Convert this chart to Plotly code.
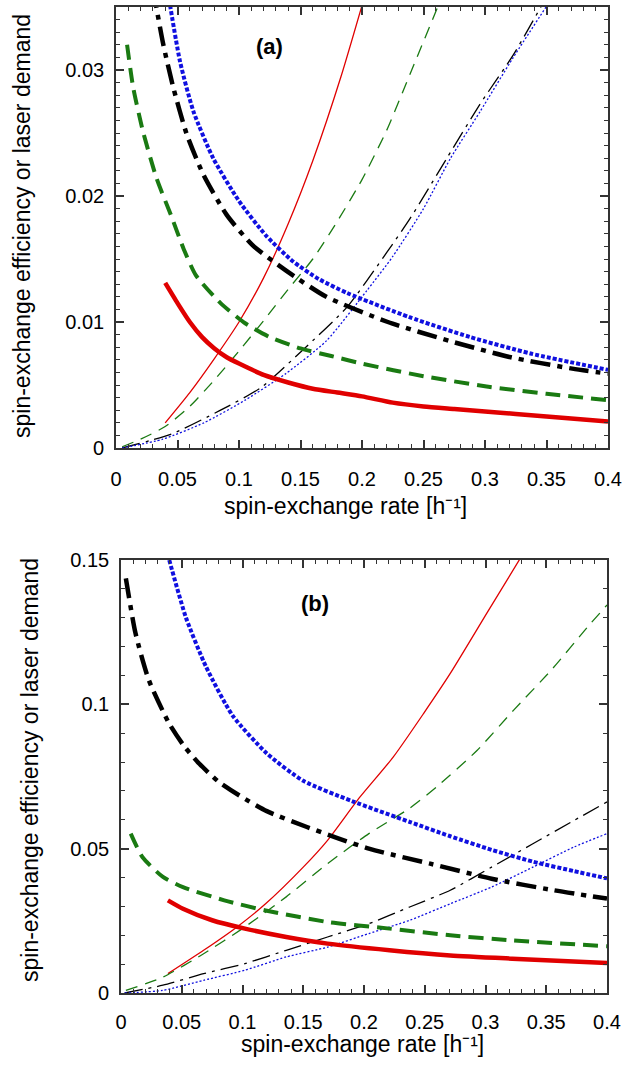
import plotly.graph_objects as go

# ---------------- Panel (a) data ----------------
A_red_eff_x = [0.04, 0.05, 0.06, 0.07, 0.08, 0.09, 0.10, 0.12, 0.14, 0.16, 0.18, 0.20, 0.225, 0.25, 0.275, 0.30, 0.325, 0.35, 0.375, 0.40]
A_red_eff_y = [0.0131, 0.0115, 0.0100, 0.0088, 0.0079, 0.0072, 0.0067, 0.0058, 0.0052, 0.0047, 0.0044, 0.0041, 0.0036, 0.0033, 0.0031, 0.0029, 0.0027, 0.0025, 0.0023, 0.0021]
A_red_las_x = [0.04, 0.06, 0.08, 0.10, 0.12, 0.14, 0.16, 0.183, 0.21]
A_red_las_y = [0.0020, 0.0044, 0.0071, 0.0100, 0.0135, 0.0178, 0.0228, 0.0295, 0.0385]

A_grn_eff_x = [0.009, 0.014, 0.022, 0.033, 0.045, 0.055, 0.065, 0.085, 0.105, 0.125, 0.15, 0.175, 0.20, 0.25, 0.30, 0.35, 0.40]
A_grn_eff_y = [0.0320, 0.0286, 0.0251, 0.0214, 0.0184, 0.0158, 0.0137, 0.0115, 0.0099, 0.0088, 0.0079, 0.0073, 0.0067, 0.0057, 0.0049, 0.0043, 0.0038]
A_grn_las_x = [0.005, 0.02, 0.04, 0.06, 0.08, 0.10, 0.12, 0.14, 0.16, 0.18, 0.20, 0.22, 0.24, 0.27]
A_grn_las_y = [0.0001, 0.0007, 0.0017, 0.0033, 0.0054, 0.0077, 0.0101, 0.0126, 0.0150, 0.0180, 0.0213, 0.0252, 0.0299, 0.0370]

A_blk_eff_x = [0.03, 0.0385, 0.0466, 0.0575, 0.071, 0.09, 0.111, 0.138, 0.171, 0.221, 0.271, 0.321, 0.371, 0.40]
A_blk_eff_y = [0.0365, 0.0320, 0.0286, 0.0249, 0.0217, 0.0185, 0.0161, 0.0141, 0.0120, 0.0100, 0.0085, 0.0072, 0.0063, 0.0059]
A_blk_las_x = [0.005, 0.045, 0.085, 0.118, 0.151, 0.188, 0.22, 0.239, 0.269, 0.296, 0.323, 0.35]
A_blk_las_y = [0.0, 0.0011, 0.0030, 0.0048, 0.0077, 0.0112, 0.0155, 0.0182, 0.0230, 0.0273, 0.0312, 0.0358]

A_blu_eff_x = [0.04, 0.052, 0.063, 0.079, 0.10, 0.1225, 0.144, 0.165, 0.188, 0.238, 0.288, 0.337, 0.40]
A_blu_eff_y = [0.0375, 0.0307, 0.0267, 0.0230, 0.0196, 0.0168, 0.0148, 0.0134, 0.0123, 0.0104, 0.0088, 0.0075, 0.0062]
A_blu_las_x = [0.005, 0.038, 0.0715, 0.105, 0.138, 0.171, 0.204, 0.225, 0.25, 0.272, 0.296, 0.323, 0.355]
A_blu_las_y = [0.0, 0.0007, 0.0020, 0.0038, 0.0059, 0.0085, 0.0125, 0.0152, 0.0190, 0.0230, 0.0267, 0.0310, 0.0358]

# ---------------- Panel (b) data ----------------
B_red_eff_x = [0.0386, 0.051, 0.075, 0.102, 0.136, 0.17, 0.221, 0.271, 0.322, 0.40]
B_red_eff_y = [0.0321, 0.0292, 0.0252, 0.0223, 0.0194, 0.0171, 0.0148, 0.0130, 0.0119, 0.0104]
B_red_las_x = [0.0386, 0.068, 0.0955, 0.119, 0.15, 0.17, 0.195, 0.224, 0.249, 0.271, 0.301, 0.335]
B_red_las_y = [0.0067, 0.0148, 0.0229, 0.0309, 0.0436, 0.0529, 0.0670, 0.0817, 0.0968, 0.1107, 0.1315, 0.1550]

B_grn_eff_x = [0.008, 0.0176, 0.0345, 0.051, 0.085, 0.119, 0.17, 0.221, 0.271, 0.322, 0.40]
B_grn_eff_y = [0.0552, 0.0471, 0.0402, 0.0367, 0.0321, 0.0286, 0.0246, 0.0223, 0.0200, 0.0182, 0.0162]
B_grn_las_x = [0.004, 0.0345, 0.068, 0.102, 0.136, 0.17, 0.204, 0.2376, 0.26, 0.293, 0.323, 0.354, 0.384, 0.40]
B_grn_las_y = [0.0009, 0.0055, 0.0136, 0.0229, 0.0333, 0.0448, 0.0552, 0.0640, 0.0715, 0.0840, 0.0979, 0.1118, 0.1268, 0.1344]

B_blk_eff_x = [0.004, 0.012, 0.023, 0.0397, 0.052, 0.0645, 0.08, 0.0975, 0.12, 0.153, 0.204, 0.2545, 0.305, 0.356, 0.40]
B_blk_eff_y = [0.1436, 0.1245, 0.1083, 0.0933, 0.0855, 0.0794, 0.0733, 0.0684, 0.0630, 0.0575, 0.0500, 0.0448, 0.0396, 0.0356, 0.0327]
B_blk_las_x = [0.003, 0.0345, 0.068, 0.102, 0.136, 0.17, 0.204, 0.2376, 0.271, 0.305, 0.339, 0.373, 0.40]
B_blk_las_y = [0.0, 0.0027, 0.0067, 0.0102, 0.0148, 0.0194, 0.0240, 0.0298, 0.0356, 0.0436, 0.0517, 0.0598, 0.0662]

B_blu_eff_x = [0.0397, 0.0535, 0.07, 0.092, 0.12, 0.15, 0.19, 0.238, 0.271, 0.305, 0.339, 0.373, 0.40]
B_blu_eff_y = [0.1500, 0.1300, 0.1130, 0.0960, 0.0830, 0.0735, 0.0665, 0.0592, 0.0543, 0.0496, 0.0455, 0.0422, 0.0397]
B_blu_las_x = [0.003, 0.0345, 0.068, 0.102, 0.136, 0.17, 0.204, 0.2376, 0.271, 0.305, 0.339, 0.373, 0.40]
B_blu_las_y = [0.0, 0.0009, 0.0044, 0.0079, 0.0125, 0.0159, 0.0206, 0.0252, 0.0309, 0.0367, 0.0436, 0.0506, 0.0552]

X_TITLE = "spin-exchange rate [h\u207b\u00b9]"
Y_TITLE = "spin-exchange efficiency or laser demand"

W, H = 641, 1069
RED, GREEN, BLACK, BLUE = "#e00000", "#1a7a12", "#000000", "#1010e0"

THIN = 1.3
THICK = 4.5
styles = {
    "red_eff": dict(color=RED, width=THICK, dash="solid"),
    "red_las": dict(color=RED, width=THIN, dash="solid"),
    "grn_eff": dict(color=GREEN, width=4, dash="15px,8px"),
    "grn_las": dict(color=GREEN, width=THIN, dash="12px,8px"),
    "blk_eff": dict(color=BLACK, width=THICK, dash="20px,7px,5px,7px"),
    "blk_las": dict(color=BLACK, width=THIN, dash="18px,6px,3px,6px"),
    "blu_eff": dict(color=BLUE, width=4, dash="4px,2px"),
    "blu_las": dict(color=BLUE, width=THIN, dash="2px,2px"),
}

fig = go.Figure()

def add(x, y, key, xa, ya):
    fig.add_trace(go.Scatter(x=x, y=y, mode="lines", line=dict(shape="spline", smoothing=0.6, **styles[key]),
                             xaxis=xa, yaxis=ya, showlegend=False, hoverinfo="skip"))

for xa, ya, data in [
    ("x", "y", [(A_red_las_x, A_red_las_y, "red_las"), (A_grn_las_x, A_grn_las_y, "grn_las"),
                (A_blk_las_x, A_blk_las_y, "blk_las"), (A_blu_las_x, A_blu_las_y, "blu_las"),
                (A_red_eff_x, A_red_eff_y, "red_eff"), (A_grn_eff_x, A_grn_eff_y, "grn_eff"),
                (A_blk_eff_x, A_blk_eff_y, "blk_eff"), (A_blu_eff_x, A_blu_eff_y, "blu_eff")]),
    ("x2", "y2", [(B_red_las_x, B_red_las_y, "red_las"), (B_grn_las_x, B_grn_las_y, "grn_las"),
                  (B_blk_las_x, B_blk_las_y, "blk_las"), (B_blu_las_x, B_blu_las_y, "blu_las"),
                  (B_red_eff_x, B_red_eff_y, "red_eff"), (B_grn_eff_x, B_grn_eff_y, "grn_eff"),
                  (B_blk_eff_x, B_blk_eff_y, "blk_eff"), (B_blu_eff_x, B_blu_eff_y, "blu_eff")]),
]:
    for x, y, k in data:
        add(x, y, k, xa, ya)

FONT = "Liberation Sans, Arial, Helvetica, sans-serif"
AX = "#333333"

def axis_common(dtick, minor_dtick, rng):
    return dict(range=rng, dtick=dtick, tick0=0, showline=True, linecolor=AX, linewidth=1.6,
                mirror="ticks", ticks="inside", ticklen=8, tickwidth=1.5, tickcolor=AX,
                minor=dict(dtick=minor_dtick, tick0=0, ticks="inside", ticklen=4, tickwidth=1.3, tickcolor=AX),
                showgrid=False, zeroline=False, automargin=False,
                tickfont=dict(family=FONT, size=20, color="black"))

fig.update_layout(
    template="none",
    width=W, height=H, margin=dict(l=0, r=0, t=0, b=0, pad=0, autoexpand=False),
    paper_bgcolor="white", plot_bgcolor="white",
    xaxis=dict(domain=[116 / W, 608 / W], anchor="y", **axis_common(0.05, 0.01, [0, 0.4]), ticklabelstandoff=12),
    yaxis=dict(domain=[1 - 448 / H, 1 - 7 / H], anchor="x", **axis_common(0.01, 0.001, [0, 0.035]), ticklabelstandoff=6),
    xaxis2=dict(domain=[121 / W, 607 / W], anchor="y2", **axis_common(0.05, 0.01, [0, 0.4]), ticklabelstandoff=10),
    yaxis2=dict(domain=[1 - 993 / H, 1 - 560 / H], anchor="x2", **axis_common(0.05, 0.01, [0, 0.15]), ticklabelstandoff=6),
)

def ann(text, px, py, size, angle=0, bold=False):
    if bold:
        text = "<b>" + text + "</b>"
    fig.add_annotation(text=text, x=px / W, y=1 - py / H, xref="paper", yref="paper",
                       xanchor="center", yanchor="middle", showarrow=False, textangle=angle,
                       font=dict(family=FONT, size=size, color="black"))

ann(Y_TITLE, 22, 226, 23, angle=-90)
ann(X_TITLE, 345, 506, 23)
ann("(a)", 269, 46, 22, bold=True)

ann(Y_TITLE, 30, 770, 23, angle=-90)
ann(X_TITLE, 362, 1044, 23)
ann("(b)", 315, 603, 22, bold=True)

fig.write_html("out.html",
               post_script="document.body.style.margin='0';document.body.style.overflow='hidden';")
